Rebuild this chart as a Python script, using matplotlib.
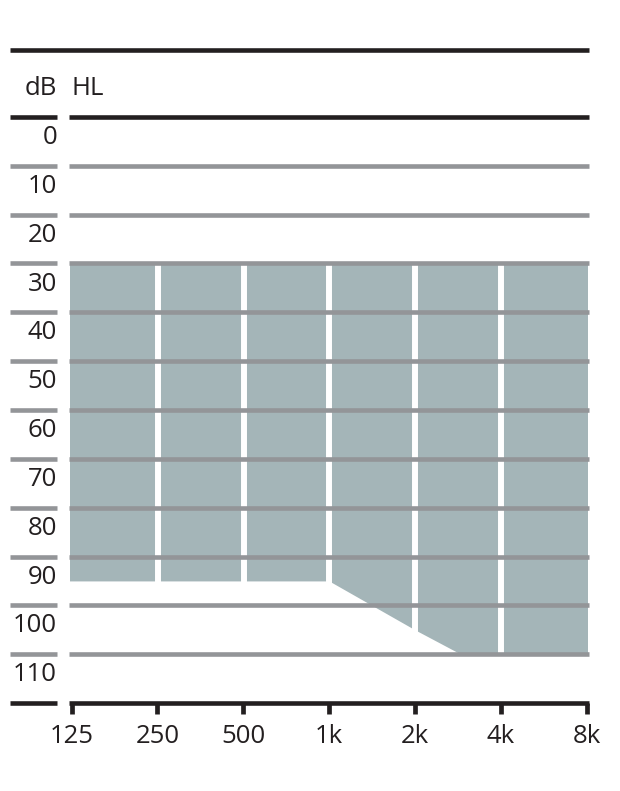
import numpy as np
import matplotlib.pyplot as plt

# Audiogram fitting range (dB HL)
freq_labels = ['125', '250', '500', '1k', '2k', '4k', '8k']
db_labels = [0, 10, 20, 30, 40, 50, 60, 70, 80, 90, 100, 110]
range_top_db = 25
edge_freqs = [125, 1000, 2000, 2900, 8000]
edge_db = [90, 90, 100, 105, 105]

black = '#231f20'
grid_gray = '#939598'
shade = '#a4b5b8'
lw = 3.3
fs = 18.5

plt.rcParams['font.family'] = ['Open Sans', 'DejaVu Sans']

fig = plt.figure(figsize=(6.2, 7.91), dpi=100)
W, H = 620, 791
# plot area in pixels: x 71.5..586.5, y 117..703
x0, x1 = 71.5, 586.5
ax = fig.add_axes([x0 / W, 1 - 703 / H, (x1 - x0) / W, (703 - 117) / H])
ax.set_xlim(0, 6)
ax.set_ylim(115, -5)
ax.axis('off')
px = 6 / (x1 - x0)  # data units per pixel

# shaded fitting range
x_oct = np.log2(np.array(edge_freqs) / 125)
xs = np.linspace(-2 * px, 6 + 1 * px, 601)
lower = np.interp(xs, x_oct, edge_db)
ax.fill_between(xs, range_top_db, lower, color=shade, lw=0, zorder=1,
                clip_on=False)

# white gaps at octave positions
for i in range(1, len(freq_labels) - 1):
    ax.vlines(i + 0.5 * px, range_top_db, 106, color='white', lw=4.3, zorder=2)

# horizontal grid lines (row boundaries)
row_edges = [d - 5 for d in db_labels] + [db_labels[-1] + 5]
left_a, left_b = (10 - x0) * px, (57 - x0) * px
for k, y in enumerate(row_edges):
    c = black if k in (0, len(row_edges) - 1) else grid_gray
    ax.hlines(y, -3 * px, 6 + 2.5 * px, color=c, lw=lw, zorder=3, clip_on=False)
    ax.hlines(y, left_a, left_b, color=c, lw=lw, zorder=3, clip_on=False)

# top rule
ax.hlines(-18.7, left_a, 6 + 2.5 * px, color=black, lw=lw, zorder=3,
          clip_on=False)

# y labels
for d in db_labels:
    ax.text(left_b, d - 0.8, str(d), ha='right', va='center', fontsize=fs,
            color=black, clip_on=False)
ax.text(left_b, -10.8, 'dB', ha='right', va='center', fontsize=fs,
        color=black)
ax.text(0.0, -10.8, 'HL', ha='left', va='center', fontsize=fs,
        color=black)

# x ticks and labels
for i, lab in enumerate(freq_labels):
    ax.vlines(i, 115, 117.3, color=black, lw=3.4, zorder=3, clip_on=False)
    ax.text(i, 121.8, lab, ha='center', va='center', fontsize=fs,
            color=black, clip_on=False)

fig.savefig('out.png', dpi=100)
